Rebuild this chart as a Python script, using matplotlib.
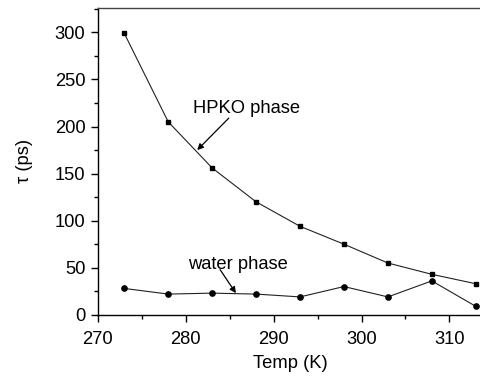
import numpy as np
import matplotlib.pyplot as plt
from matplotlib.ticker import MultipleLocator

temp = [273, 278, 283, 288, 293, 298, 303, 308, 313]
tau_hpko = [299, 205, 156, 120, 94, 75, 55, 43, 33]
tau_water = [28, 22, 23, 22, 19, 30, 19, 36, 9]

plt.rcParams['font.family'] = ['Liberation Sans', 'DejaVu Sans']
fs = 13.2

fig = plt.figure(figsize=(4.8, 3.77), dpi=100)
ax = fig.add_axes([0.204, 0.165, 0.8, 0.814])

ax.plot(temp, tau_hpko, color='#222222', lw=0.8, marker='s', ms=3.5, mfc='black', mec='black')
ax.plot(temp, tau_water, color='#222222', lw=0.8, marker='o', ms=3.8, mfc='black', mec='black')

ax.set_xlim(270, 313.7)
ax.set_ylim(0, 326)
ax.xaxis.set_major_locator(MultipleLocator(10))
ax.xaxis.set_minor_locator(MultipleLocator(5))
ax.yaxis.set_major_locator(MultipleLocator(50))
ax.yaxis.set_minor_locator(MultipleLocator(25))
ax.tick_params(which='major', direction='out', length=5, width=1, labelsize=fs)
ax.tick_params(axis='x', which='major', pad=7)
ax.tick_params(axis='y', which='major', pad=4)
ax.tick_params(which='minor', direction='out', length=3, width=1)
ax.spines['right'].set_visible(False)
for s in ['left', 'bottom', 'top']:
    ax.spines[s].set_linewidth(1.0)
ax.spines['top'].set_color('#444444')

ax.set_xlabel('Temp (K)', fontsize=fs, labelpad=5)
ax.set_ylabel('τ (ps)', fontsize=fs, labelpad=16)

# labels and their pointers
ax.text(280.8, 219, 'HPKO phase', fontsize=fs, ha='left', va='center')
ax.annotate('', xy=(281.3, 175), xytext=(284.9, 209),
            arrowprops=dict(arrowstyle='-|>', color='black', lw=0.9,
                            shrinkA=0, shrinkB=0, mutation_scale=9))
ax.text(280.2, 53, 'water phase', fontsize=fs, ha='left', va='center')
ax.annotate('', xy=(285.7, 23), xytext=(283.9, 48),
            arrowprops=dict(arrowstyle='-|>', color='black', lw=0.9,
                            shrinkA=0, shrinkB=0, mutation_scale=9))

fig.savefig('out.png', dpi=100)
